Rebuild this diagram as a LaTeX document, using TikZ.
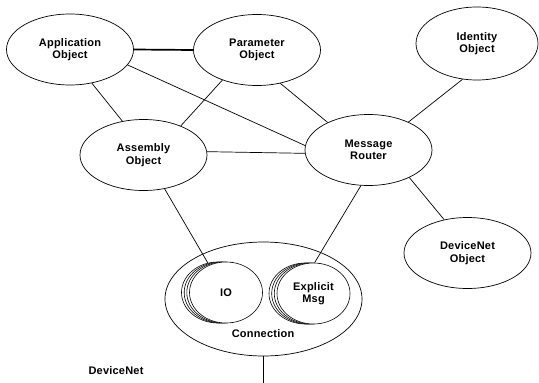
\documentclass[tikz,border=0pt]{standalone}
\usepackage{fontspec}
\setmainfont[LetterSpace=2]{Liberation Sans}
\usetikzlibrary{shapes.geometric}
\begin{document}
\begin{tikzpicture}[x=1pt,y=-1pt,
  lbl/.style={font=\bfseries\fontsize{11}{12.5}\selectfont, align=center, inner sep=0pt},
  obj/.style={ellipse, draw, line width=0.7pt, inner sep=0pt, minimum width=127pt, minimum height=71pt, lbl},
  disc/.style={ellipse, draw, fill=white, line width=0.6pt, inner sep=0pt, minimum width=73pt, minimum height=61pt, lbl},
  link/.style={line width=0.7pt},
  heavy/.style={line width=1.7pt}]
\useasboundingbox (0,0) rectangle (539,383);
% objects
\node[obj] (app) at (70,49.5) {Application\\Object};
\node[obj] (par) at (257,50) {Parameter\\Object};
\node[obj, minimum width=122pt, minimum height=73pt] (id) at (477,43.5) {Identity\\Object};
\node[obj] (asm) at (143.5,155) {Assembly\\Object};
\node[obj] (mr) at (368.5,150) {Message\\Router};
\node[obj] (dn) at (467.5,253) {DeviceNet\\Object};
% connection
\node[ellipse, draw, line width=0.7pt, inner sep=0pt, minimum width=197pt, minimum height=114pt] (conn) at (263.5,299) {};
\node[lbl] (ctext) at (263,334) {Connection};
\node[disc] (io3) at (218,292.5) {};
\node[disc] (io2) at (220.7,292.5) {};
\node[disc] (io1) at (223.3,292.5) {};
\node[disc] (io0) at (226,292.5) {IO};
\node[disc] (ex3) at (305.5,293.5) {};
\node[disc] (ex2) at (308.2,293.5) {};
\node[disc] (ex1) at (310.8,293.5) {};
\node[disc] (ex0) at (313.5,293.5) {Explicit\\Msg};
\node[lbl] (net) at (116,371) {DeviceNet};
\coordinate (bot) at (263.5,383);
% connectors
\draw[heavy] (app.east) -- (par.west);
\draw[link] (app.-15) -- (mr.176);
\draw[link] (app.-57) -- (asm.122);
\draw[link] (par.221) -- (asm.38);
\draw[link] (par.-55) -- (mr.146);
\draw[link] (asm.3) -- (mr.183);
\draw[link] (id.248) -- (mr.35);
\draw[link] (mr.-34) -- (dn.125);
\draw[link] (asm.-58) -- (io3.109);
\draw[link] (mr.258) -- (ex0.88);
\draw[link] (conn.south) -- (bot);
\end{tikzpicture}
\end{document}
